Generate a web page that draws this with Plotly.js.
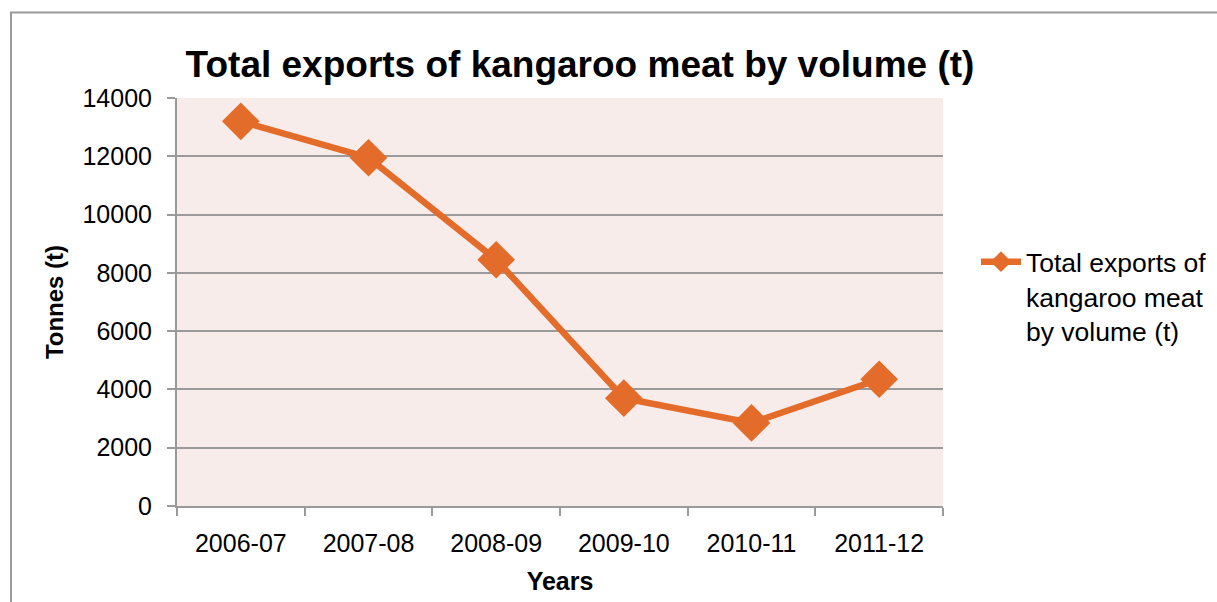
<!DOCTYPE html>
<html>
<head>
<meta charset="utf-8">
<script src="https://cdn.plot.ly/plotly-3.0.1.min.js"></script>
<style>
html,body{margin:0;padding:0;background:#fff;overflow:hidden;}
#chart{width:1217px;height:602px;}
</style>
</head>
<body>
<div id="chart"></div>
<script>
const years = ["2006-07", "2007-08", "2008-09", "2009-10", "2010-11", "2011-12"];
const tonnes = [13200, 11950, 8450, 3700, 2850, 4350];
const seriesName = "Total exports of<br>kangaroo meat<br>by volume (t)";
const chartTitle = "Total exports of kangaroo meat by volume (t)";
const yTitle = "Tonnes (t)";
const xTitle = "Years";

const FONT = "Arial, 'Liberation Sans', sans-serif";
const ORANGE = "#E46C2B";
const GRID = "#9a9a9a";

const trace = {
  x: years,
  y: tonnes,
  type: "scatter",
  mode: "lines+markers",
  name: seriesName,
  line: {color: ORANGE, width: 6.5},
  marker: {symbol: "diamond", size: 29, color: ORANGE}
};

const layout = {
  width: 1217,
  height: 602,
  margin: {l: 177, r: 274, t: 98, b: 96},
  paper_bgcolor: "#ffffff",
  plot_bgcolor: "#F8ECEA",
  font: {family: FONT, color: "#000", size: 25},
  title: {
    text: "<b>" + chartTitle + "</b>",
    font: {family: FONT, size: 37, color: "#000"},
    x: 580 / 1217, xref: "container", xanchor: "center",
    y: 1 - 64 / 602, yref: "container", yanchor: "middle"
  },
  xaxis: {
    type: "category",
    range: [-0.5, years.length - 0.5],
    showgrid: false,
    showline: true, linecolor: GRID, linewidth: 2,
    ticks: "outside", tickson: "boundaries", ticklen: 8, tickwidth: 2, tickcolor: GRID,
    tickfont: {family: FONT, size: 25, color: "#000"},
    ticklabelstandoff: 14,
    title: {text: "<b>" + xTitle + "</b>", font: {family: FONT, size: 25, color: "#000"}, standoff: 16},
    fixedrange: true
  },
  yaxis: {
    range: [0, 14000], dtick: 2000, tick0: 0,
    tickformat: "d",
    showgrid: true, gridcolor: GRID, gridwidth: 2,
    zeroline: false,
    showline: true, linecolor: GRID, linewidth: 2,
    ticks: "outside", ticklen: 8, tickwidth: 2, tickcolor: GRID,
    tickfont: {family: FONT, size: 25, color: "#000"},
    ticklabelstandoff: 10,
    title: {text: "<b>" + yTitle + "</b>", font: {family: FONT, size: 24, color: "#000"}, standoff: 12},
    fixedrange: true
  },
  showlegend: true,
  legend: {
    xref: "container", yref: "container",
    x: 976 / 1217, xanchor: "left",
    y: 1 - 238 / 602, yanchor: "top",
    valign: "top",
    font: {family: FONT, size: 26.5, color: "#000"},
    bgcolor: "rgba(0,0,0,0)",
    itemwidth: 40
  },
  shapes: [{
    type: "rect", xref: "paper", yref: "paper",
    x0: (11 - 177) / 766, x1: 1.5,
    y0: -0.5, y1: 1 + (98 - 12.5) / 408,
    line: {color: "#9a9a9a", width: 2},
    fillcolor: "rgba(0,0,0,0)",
    layer: "below"
  }]
};

Plotly.newPlot("chart", [trace], layout, {displayModeBar: false, staticPlot: true});
</script>
</body>
</html>
